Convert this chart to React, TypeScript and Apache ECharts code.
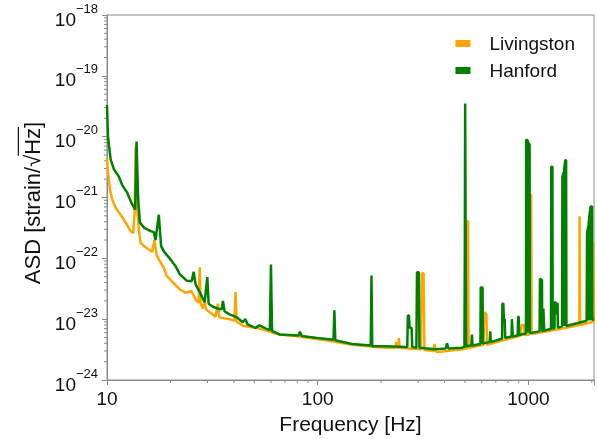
import React, { useEffect, useRef } from "react";
import * as echarts from "echarts";

// Hanford ASD
const freqH = [
  10, 10.11, 10.41, 10.79, 11.39, 11.81, 12.47, 13.17, 13.6, 13.81, 14.06, 14.32, 14.96, 16.09, 16.68, 16.99,
  17.62, 18.06, 18.6, 20.01, 21.12, 22.14, 23.89, 25.23, 25.78, 26.35, 27.54, 29.06, 29.93, 30.36, 31.8, 33.48,
  35.0, 35.5, 36.14, 38.15, 41.19, 44.1, 45.4, 46.5, 50.6, 52.9, 56.9, 59.3, 60.0, 60.7, 65.8, 81.0, 82.4, 84,
  99.4, 118.8, 120, 121.2, 145.6, 178.5, 180, 181.5, 210, 262, 266, 268, 271, 273, 279, 281, 294, 296, 302, 304,
  362, 405, 411, 417, 484, 497, 499, 501, 504, 506, 536, 539.5, 543, 592, 594, 606, 608, 655, 659, 663, 721,
  750, 753, 760, 765, 772, 776, 832, 835, 840, 843, 890, 893, 900, 903,
  974, 976, 992, 995, 997, 1013, 1016, 1130, 1135, 1160, 1163, 1175, 1178, 1185, 1188, 1280, 1284, 1300, 1304,
  1330, 1334, 1345, 1350, 1362, 1375, 1380, 1445, 1450, 1470, 1478, 1480, 1495, 1510, 1515,
  1890, 1898, 1925, 1930, 1933, 1960, 1965, 1968, 2005, 2010, 2048,
];
const asdH = [
  3.3e-20, 1.0e-20, 4.2e-21, 2.9e-21, 2.2e-21, 1.6e-21, 1.2e-21, 7.7e-22, 6.3e-22, 8.3e-21, 9.3e-22, 3.9e-22,
  3.2e-22, 2.8e-22, 2.7e-22, 2.0e-22, 5.2e-22, 1.6e-22, 1.3e-22, 9.6e-23, 7.5e-23, 5.5e-23, 4.3e-23, 4.2e-23,
  6.0e-23, 3.7e-23, 2.8e-23, 1.9e-23, 4.9e-23, 1.8e-23, 1.6e-23, 1.5e-23, 1.45e-23, 2.0e-23, 1.35e-23, 1.2e-23,
  1.08e-23, 8.9e-24, 1.0e-23, 8.2e-24, 7.2e-24, 7.9e-24, 7.0e-24, 6.6e-24, 7.9e-23, 6.4e-24, 5.6e-24, 5.4e-24,
  6.2e-24, 5.3e-24, 4.9e-24, 4.6e-24, 1.4e-23, 4.5e-24, 3.9e-24, 3.7e-24, 5.2e-23, 3.6e-24, 3.6e-24, 3.5e-24,
  3.5e-24, 1.15e-23, 1.15e-23, 7.2e-24, 7.2e-24, 3.5e-24, 3.4e-24, 5.9e-23, 5.9e-23, 3.4e-24, 3.2e-24, 3.3e-24,
  4.0e-24, 3.3e-24, 3.4e-24, 3.5e-24, 8e-23, 3.5e-20, 3.5e-20, 3.6e-24, 3.7e-24, 5.6e-24, 3.7e-24, 3.9e-24,
  3.3e-23, 3.3e-23, 4.0e-24, 4.2e-24, 6.3e-24, 4.2e-24, 4.6e-24, 4.8e-24, 1.8e-23, 1.8e-23, 1.0e-23, 1.0e-23,
  4.9e-24, 5.2e-24, 1.0e-23, 1.0e-23, 5.2e-24, 5.4e-24, 1.1e-23, 1.1e-23, 5.5e-24,
  5.8e-24, 8.9e-21, 8.7e-21, 6.0e-24, 8.0e-21, 7.5e-21, 5.9e-24, 6.3e-24, 4.6e-23, 4.4e-23, 6.4e-24, 6.4e-24,
  1.5e-23, 1.5e-23, 6.5e-24, 6.9e-24, 3.2e-21, 3.2e-21, 7.0e-24,
  7.1e-24, 1.9e-23, 1.9e-23, 1.2e-23, 1.8e-23, 1.8e-23, 7.2e-24, 7.6e-24, 2.2e-21, 2.6e-21, 7.7e-24, 3.0e-21,
  4.1e-21, 4.1e-21, 7.7e-24,
  9.4e-24, 2.6e-22, 3.4e-22, 9.5e-24, 3.8e-22, 6.0e-22, 9.6e-24, 7.0e-22, 7.2e-22, 9.8e-24, 1.0e-23,
];

// Livingston ASD
const freqL = [
  10, 10.11, 10.33, 10.59, 10.99, 11.61, 12.26, 12.94, 13.32, 13.52, 13.67, 13.91, 14.17, 14.43, 14.96, 15.8,
  16.37, 16.81, 17.18, 17.62, 18.6, 19.16, 20.29, 22.14, 23.63, 25.15, 26.56, 27.23, 27.54, 27.83, 28.53, 29.06,
  29.5, 30.69, 32.76, 33.59, 34.1, 34.97, 38.15, 40.29, 40.73, 41.19, 44.11, 52.9, 65.8, 81.7, 113.4, 145.6,
  208.5, 233, 235.8, 238, 241, 242.8, 245, 309, 312, 318, 321, 355, 359, 363, 375, 484, 510, 513, 517, 520, 612,
  617, 632, 636, 721, 920, 928, 955, 960, 1012, 1020, 1030, 1036, 1386, 1745, 1750, 1756, 1760, 2020, 2028,
  2036, 2044, 2048,
];
const asdL = [
  4.5e-21, 2.5e-21, 1.36e-21, 9.3e-22, 6.8e-22, 5.2e-22, 3.9e-22, 2.8e-22, 2.6e-22, 5.6e-22, 6.9e-21, 6.3e-22,
  3.0e-22, 1.8e-22, 1.6e-22, 1.4e-22, 1.27e-22, 2.0e-22, 1.15e-22, 9.6e-23, 7.0e-23, 5.2e-23, 4.2e-23, 3.1e-23,
  2.7e-23, 2.9e-23, 2.0e-23, 1.9e-23, 7.1e-23, 1.8e-23, 1.5e-23, 2.0e-23, 1.45e-23, 1.3e-23, 1.1e-23, 1.8e-23,
  1.08e-23, 1.05e-23, 1.0e-23, 9.5e-24, 2.8e-23, 9.2e-24, 7.8e-24, 7.0e-24, 5.6e-24, 5.2e-24, 4.4e-24, 3.8e-24,
  3.4e-24, 3.4e-24, 4.2e-24, 3.4e-24, 3.4e-24, 4.9e-24, 3.4e-24, 3.2e-24, 5.7e-23, 5.7e-23, 3.1e-24, 3.0e-24,
  3.9e-24, 2.95e-24, 2.88e-24, 3.2e-24, 3.3e-24, 4.1e-22, 4.1e-22, 3.4e-24, 3.8e-24, 1.3e-23, 1.2e-23, 3.8e-24,
  4.3e-24, 5.4e-24, 8e-24, 8e-24, 5.5e-24, 5.6e-24, 1.1e-21, 1.1e-21, 5.7e-24, 6.8e-24, 8.0e-24, 4.9e-22,
  4.9e-22, 8.0e-24, 9.0e-24, 1.8e-22, 1.8e-22, 9.1e-24, 9.1e-24,
];

const seriesNames = ["Livingston", "Hanford"];
const seriesColors = ["#ffa500", "#008000"];
const xMin = 10;
const xMax = 2048;
const yMinExp = -24;
const yMaxExp = -18;
const xDecades = [10, 100, 1000];
const yDecadeExps = [-24, -23, -22, -21, -20, -19];
const minorMultipliers = [2, 3, 4, 5, 6, 7, 8, 9];

// ECharts' log scale rounds tiny values to 0, so the axis works in units of 1e-24 strain/√Hz.
const UNIT_EXP = -24;
const toUnit = (v: number) => v * Math.pow(10, -UNIT_EXP);

const FONT = "'Liberation Sans', Arial, Helvetica, sans-serif";
const TXT = "#111";
const AXIS = "#8a8a8a";

export default function App() {
  const ref = useRef<HTMLDivElement>(null);
  useEffect(() => {
    if (!ref.current) return;
    const chart = echarts.init(ref.current, null, { renderer: "svg" });

    const yMin = Math.pow(10, yMinExp - UNIT_EXP);
    const yMax = Math.pow(10, yMaxExp - UNIT_EXP);

    const xMinorData: number[][] = [];
    xDecades.forEach((d) =>
      minorMultipliers.forEach((m) => {
        if (m * d <= xMax) xMinorData.push([m * d, yMin]);
      })
    );
    const yMinorData: number[][] = [];
    yDecadeExps.forEach((e) =>
      minorMultipliers.forEach((m) => yMinorData.push([xMin, m * Math.pow(10, e - UNIT_EXP)]))
    );

    // y-axis title with sqrt overline
    const fs = 22;
    const font = `${fs}px ${FONT}`;
    const cv = document.createElement("canvas").getContext("2d")!;
    cv.font = font;
    const full = "ASD [strain/\u221AHz]";
    const pre = "ASD [strain/\u221A";
    const W = cv.measureText(full).width;
    const wPre = cv.measureText(pre).width;
    const wHz = cv.measureText("Hz").width;

    const option: any = {
      animation: false,
      grid: { left: 107, right: 1, top: 15, bottom: 58, show: true, borderColor: AXIS, borderWidth: 1 },
      legend: {
        data: seriesNames,
        orient: "vertical",
        right: 17,
        top: 29,
        icon: "rect",
        itemWidth: 15,
        itemHeight: 7,
        itemGap: 8,
        textStyle: { fontSize: 19, color: TXT, fontFamily: FONT, padding: [0, 0, 0, 14] },
      },
      xAxis: {
        type: "log",
        logBase: 10,
        min: xMin,
        max: xMax,
        axisLine: { show: true, lineStyle: { color: AXIS, width: 1 } },
        axisTick: { show: true, length: 5, lineStyle: { color: AXIS } },
        splitLine: { show: false },
        axisLabel: {
          fontSize: 19,
          color: TXT,
          fontFamily: FONT,
          margin: 9,
          formatter: (v: number) => {
            const r = Math.round(v);
            return xDecades.includes(r) ? String(r) : "";
          },
        },
        name: "Frequency [Hz]",
        nameLocation: "middle",
        nameGap: 33,
        nameTextStyle: { fontSize: 21, color: TXT, fontFamily: FONT },
      },
      yAxis: {
        type: "log",
        logBase: 10,
        min: yMin,
        max: yMax,
        axisLine: { show: true, lineStyle: { color: AXIS, width: 1 } },
        axisTick: { show: true, length: 5, lineStyle: { color: AXIS } },
        splitLine: { show: false },
        axisLabel: {
          margin: 9,
          formatter: (v: number) => {
            const e = Math.round(Math.log10(v)) + UNIT_EXP;
            return `{b|10}{e|\u2212${-e}}`;
          },
          rich: {
            b: { fontSize: 19, lineHeight: 27, verticalAlign: "bottom", color: TXT, fontFamily: FONT },
            e: { fontSize: 13, lineHeight: 12, verticalAlign: "top", color: TXT, fontFamily: FONT },
          },
        },
      },
      graphic: [
        {
          type: "group",
          x: 32,
          y: 203,
          rotation: Math.PI / 2,
          children: [
            {
              type: "text",
              x: -W / 2,
              y: 0,
              style: { text: full, font, fill: TXT, align: "left", verticalAlign: "middle" },
            },
            {
              type: "line",
              shape: { x1: -W / 2 + wPre - 1, y1: -fs * 0.62, x2: -W / 2 + wPre + wHz + 1, y2: -fs * 0.62 },
              style: { stroke: TXT, lineWidth: 1.2 },
            },
          ],
        },
      ],
      series: [
        {
          name: seriesNames[0],
          type: "line",
          data: freqL.map((f, i) => [f, toUnit(asdL[i])]),
          showSymbol: false,
          symbol: "none",
          lineStyle: { color: seriesColors[0], width: 2.5 },
          itemStyle: { color: seriesColors[0] },
          z: 3,
        },
        {
          name: seriesNames[1],
          type: "line",
          data: freqH.map((f, i) => [f, toUnit(asdH[i])]),
          showSymbol: false,
          symbol: "none",
          lineStyle: { color: seriesColors[1], width: 2.5 },
          itemStyle: { color: seriesColors[1] },
          z: 4,
        },
        {
          type: "custom",
          silent: true,
          clip: false,
          data: xMinorData,
          renderItem: (_p: any, api: any) => {
            const p = api.coord([api.value(0), api.value(1)]);
            return {
              type: "line",
              shape: { x1: p[0], y1: p[1], x2: p[0], y2: p[1] + 3 },
              style: { stroke: AXIS, lineWidth: 1 },
            };
          },
        },
        {
          type: "custom",
          silent: true,
          clip: false,
          data: yMinorData,
          renderItem: (_p: any, api: any) => {
            const p = api.coord([api.value(0), api.value(1)]);
            return {
              type: "line",
              shape: { x1: p[0] - 3, y1: p[1], x2: p[0], y2: p[1] },
              style: { stroke: AXIS, lineWidth: 1 },
            };
          },
        },
      ],
    };
    chart.setOption(option);
    return () => chart.dispose();
  }, []);
  return <div ref={ref} style={{ position: "fixed", left: 0, top: 0, width: 597, height: 439 }} />;
}
